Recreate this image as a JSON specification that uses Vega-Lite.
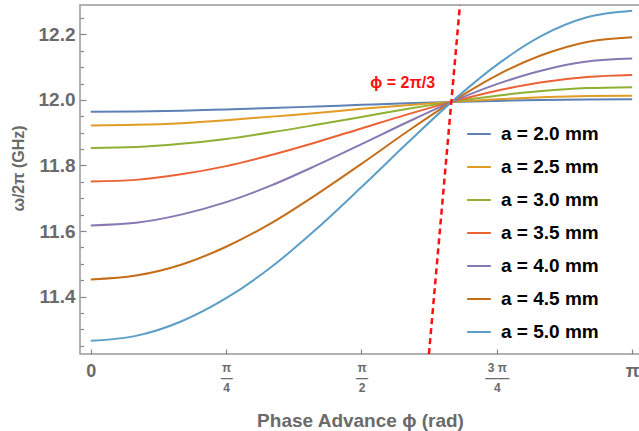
{
  "$schema": "https://vega.github.io/schema/vega-lite/v6.json",
  "autosize": "none",
  "width": 563,
  "height": 349,
  "padding": {"left": 80, "top": 5, "right": 0, "bottom": 77},
  "background": "white",
  "config": {
    "view": {"stroke": "#999999", "strokeWidth": 1.5},
    "font": "Liberation Sans"
  },
  "datasets": {
    "curves": [
      {"a": "a = 2.0 mm", "phi": 0, "f": 11.964},
      {"a": "a = 2.0 mm", "phi": 0.2618, "f": 11.965},
      {"a": "a = 2.0 mm", "phi": 0.5236, "f": 11.967},
      {"a": "a = 2.0 mm", "phi": 0.7854, "f": 11.971},
      {"a": "a = 2.0 mm", "phi": 1.0472, "f": 11.975},
      {"a": "a = 2.0 mm", "phi": 1.309, "f": 11.98},
      {"a": "a = 2.0 mm", "phi": 1.5708, "f": 11.985},
      {"a": "a = 2.0 mm", "phi": 1.8326, "f": 11.99},
      {"a": "a = 2.0 mm", "phi": 2.0944, "f": 11.994},
      {"a": "a = 2.0 mm", "phi": 2.3562, "f": 11.997},
      {"a": "a = 2.0 mm", "phi": 2.618, "f": 12.0},
      {"a": "a = 2.0 mm", "phi": 2.8798, "f": 12.001},
      {"a": "a = 2.0 mm", "phi": 3.1416, "f": 12.002},
      {"a": "a = 2.5 mm", "phi": 0, "f": 11.922},
      {"a": "a = 2.5 mm", "phi": 0.2618, "f": 11.924},
      {"a": "a = 2.5 mm", "phi": 0.5236, "f": 11.929},
      {"a": "a = 2.5 mm", "phi": 0.7854, "f": 11.938},
      {"a": "a = 2.5 mm", "phi": 1.0472, "f": 11.949},
      {"a": "a = 2.5 mm", "phi": 1.309, "f": 11.96},
      {"a": "a = 2.5 mm", "phi": 1.5708, "f": 11.973},
      {"a": "a = 2.5 mm", "phi": 1.8326, "f": 11.984},
      {"a": "a = 2.5 mm", "phi": 2.0944, "f": 11.994},
      {"a": "a = 2.5 mm", "phi": 2.3562, "f": 12.002},
      {"a": "a = 2.5 mm", "phi": 2.618, "f": 12.008},
      {"a": "a = 2.5 mm", "phi": 2.8798, "f": 12.012},
      {"a": "a = 2.5 mm", "phi": 3.1416, "f": 12.013},
      {"a": "a = 3.0 mm", "phi": 0, "f": 11.853},
      {"a": "a = 3.0 mm", "phi": 0.2618, "f": 11.856},
      {"a": "a = 3.0 mm", "phi": 0.5236, "f": 11.866},
      {"a": "a = 3.0 mm", "phi": 0.7854, "f": 11.881},
      {"a": "a = 3.0 mm", "phi": 1.0472, "f": 11.901},
      {"a": "a = 3.0 mm", "phi": 1.309, "f": 11.924},
      {"a": "a = 3.0 mm", "phi": 1.5708, "f": 11.948},
      {"a": "a = 3.0 mm", "phi": 1.8326, "f": 11.972},
      {"a": "a = 3.0 mm", "phi": 2.0944, "f": 11.994},
      {"a": "a = 3.0 mm", "phi": 2.3562, "f": 12.013},
      {"a": "a = 3.0 mm", "phi": 2.618, "f": 12.027},
      {"a": "a = 3.0 mm", "phi": 2.8798, "f": 12.036},
      {"a": "a = 3.0 mm", "phi": 3.1416, "f": 12.039},
      {"a": "a = 3.5 mm", "phi": 0, "f": 11.751},
      {"a": "a = 3.5 mm", "phi": 0.2618, "f": 11.756},
      {"a": "a = 3.5 mm", "phi": 0.5236, "f": 11.773},
      {"a": "a = 3.5 mm", "phi": 0.7854, "f": 11.798},
      {"a": "a = 3.5 mm", "phi": 1.0472, "f": 11.832},
      {"a": "a = 3.5 mm", "phi": 1.309, "f": 11.871},
      {"a": "a = 3.5 mm", "phi": 1.5708, "f": 11.913},
      {"a": "a = 3.5 mm", "phi": 1.8326, "f": 11.955},
      {"a": "a = 3.5 mm", "phi": 2.0944, "f": 11.994},
      {"a": "a = 3.5 mm", "phi": 2.3562, "f": 12.028},
      {"a": "a = 3.5 mm", "phi": 2.618, "f": 12.054},
      {"a": "a = 3.5 mm", "phi": 2.8798, "f": 12.07},
      {"a": "a = 3.5 mm", "phi": 3.1416, "f": 12.076},
      {"a": "a = 4.0 mm", "phi": 0, "f": 11.617},
      {"a": "a = 4.0 mm", "phi": 0.2618, "f": 11.625},
      {"a": "a = 4.0 mm", "phi": 0.5236, "f": 11.65},
      {"a": "a = 4.0 mm", "phi": 0.7854, "f": 11.688},
      {"a": "a = 4.0 mm", "phi": 1.0472, "f": 11.739},
      {"a": "a = 4.0 mm", "phi": 1.309, "f": 11.8},
      {"a": "a = 4.0 mm", "phi": 1.5708, "f": 11.865},
      {"a": "a = 4.0 mm", "phi": 1.8326, "f": 11.931},
      {"a": "a = 4.0 mm", "phi": 2.0944, "f": 11.994},
      {"a": "a = 4.0 mm", "phi": 2.3562, "f": 12.048},
      {"a": "a = 4.0 mm", "phi": 2.618, "f": 12.09},
      {"a": "a = 4.0 mm", "phi": 2.8798, "f": 12.117},
      {"a": "a = 4.0 mm", "phi": 3.1416, "f": 12.126},
      {"a": "a = 4.5 mm", "phi": 0, "f": 11.452},
      {"a": "a = 4.5 mm", "phi": 0.2618, "f": 11.464},
      {"a": "a = 4.5 mm", "phi": 0.5236, "f": 11.497},
      {"a": "a = 4.5 mm", "phi": 0.7854, "f": 11.552},
      {"a": "a = 4.5 mm", "phi": 1.0472, "f": 11.624},
      {"a": "a = 4.5 mm", "phi": 1.309, "f": 11.711},
      {"a": "a = 4.5 mm", "phi": 1.5708, "f": 11.805},
      {"a": "a = 4.5 mm", "phi": 1.8326, "f": 11.902},
      {"a": "a = 4.5 mm", "phi": 2.0944, "f": 11.994},
      {"a": "a = 4.5 mm", "phi": 2.3562, "f": 12.075},
      {"a": "a = 4.5 mm", "phi": 2.618, "f": 12.137},
      {"a": "a = 4.5 mm", "phi": 2.8798, "f": 12.177},
      {"a": "a = 4.5 mm", "phi": 3.1416, "f": 12.191},
      {"a": "a = 5.0 mm", "phi": 0, "f": 11.265},
      {"a": "a = 5.0 mm", "phi": 0.2618, "f": 11.28},
      {"a": "a = 5.0 mm", "phi": 0.5236, "f": 11.324},
      {"a": "a = 5.0 mm", "phi": 0.7854, "f": 11.395},
      {"a": "a = 5.0 mm", "phi": 1.0472, "f": 11.49},
      {"a": "a = 5.0 mm", "phi": 1.309, "f": 11.606},
      {"a": "a = 5.0 mm", "phi": 1.5708, "f": 11.734},
      {"a": "a = 5.0 mm", "phi": 1.8326, "f": 11.866},
      {"a": "a = 5.0 mm", "phi": 2.0944, "f": 11.994},
      {"a": "a = 5.0 mm", "phi": 2.3562, "f": 12.107},
      {"a": "a = 5.0 mm", "phi": 2.618, "f": 12.196},
      {"a": "a = 5.0 mm", "phi": 2.8798, "f": 12.252},
      {"a": "a = 5.0 mm", "phi": 3.1416, "f": 12.272}
    ],
    "lightline": [
      {"phi": 1.962, "f": 11.2247},
      {"phi": 2.142, "f": 12.2896}
    ],
    "note": [
      {"label": "ϕ = 2π/3", "phi": 1.81, "f": 12.052}
    ]
  },
  "layer": [
    {
      "data": {"name": "curves"},
      "mark": {"type": "line", "strokeWidth": 2, "interpolate": "monotone", "clip": true},
      "encoding": {
        "x": {
          "field": "phi", "type": "quantitative",
          "scale": {"domain": [-0.0628, 3.2044], "nice": false, "zero": false},
          "axis": {
            "title": "Phase Advance ϕ (rad)",
            "titleFont": "Liberation Sans", "titleFontSize": 19, "titleFontWeight": "bold", "titleColor": "#6a6a6a",
            "titleBaseline": "middle", "titleY": 66, "titleX": 280,
            "values": [0, 0.7853981634, 1.5707963268, 2.3561944902, 3.1415926536],
            "domain": false, "grid": false,
            "tickSize": -5, "tickColor": "#888", "tickWidth": 1.2,
            "labelPadding": 13,
            "labelColor": "#6a6a6a",
            "labelFont": "Liberation Sans",
            "labelFontWeight": "bold",
            "labelFontSize": {"condition": {"test": "datum.value < 0.1 || datum.value > 3", "value": 18}, "value": 12},
            "labelLineHeight": 10,
            "labelBaseline": "top",
            "labelExpr": "datum.value < 0.1 ? '0' : datum.value > 3 ? 'π' : datum.value < 1 ? ['π','—','4'] : datum.value < 2 ? ['π','—','2'] : ['3 π','——','4']"
          }
        },
        "y": {
          "field": "f", "type": "quantitative",
          "scale": {"domain": [11.2247, 12.2896], "nice": false, "zero": false},
          "axis": {
            "orient": "left",
            "title": "ω/2π (GHz)",
            "titleFont": "Liberation Sans", "titleFontSize": 16, "titleFontWeight": "bold", "titleColor": "#6a6a6a",
            "titleAngle": 270, "titleBaseline": "middle", "titleAlign": "center", "titleX": -62, "titleY": 163,
            "values": [11.4, 11.6, 11.8, 12.0, 12.2],
            "format": ".1f",
            "domain": false, "grid": false,
            "tickSize": -6, "tickColor": "#888", "tickWidth": 1.2,
            "labelPadding": 11,
            "labelColor": "#6a6a6a",
            "labelFont": "Liberation Sans",
            "labelFontSize": 19,
            "labelFontWeight": "bold"
          }
        },
        "color": {
          "field": "a", "type": "nominal",
          "scale": {
            "domain": ["a = 2.0 mm", "a = 2.5 mm", "a = 3.0 mm", "a = 3.5 mm", "a = 4.0 mm", "a = 4.5 mm", "a = 5.0 mm"],
            "range": ["#5E81B5", "#E19C24", "#8FB032", "#EB6235", "#8778B3", "#C56E1A", "#5D9EC7"]
          },
          "legend": {
            "title": null,
            "orient": "none",
            "legendX": 386,
            "legendY": 116,
            "padding": 0,
            "symbolType": "stroke",
            "symbolSize": 560,
            "symbolStrokeWidth": 2,
            "labelFont": "Liberation Sans",
            "labelFontSize": 19,
            "labelFontWeight": "bold",
            "labelColor": "#000",
            "labelOffset": 9,
            "rowPadding": 10
          }
        }
      }
    },
    {
      "data": {"name": "lightline"},
      "mark": {"type": "line", "color": "#FF1010", "strokeWidth": 2.5, "strokeDash": [6, 4], "clip": true},
      "encoding": {
        "x": {"field": "phi", "type": "quantitative", "axis": {"title": "Phase Advance ϕ (rad)"}},
        "y": {
          "field": "f", "type": "quantitative",
          "axis": {
            "orient": "left",
            "title": null,
            "values": [11.25, 11.3, 11.35, 11.45, 11.5, 11.55, 11.65, 11.7, 11.75, 11.85, 11.9, 11.95, 12.05, 12.1, 12.15, 12.25],
            "labels": false, "domain": false, "grid": false,
            "tickSize": -3.5, "tickColor": "#888", "tickWidth": 1.2
          }
        }
      }
    },
    {
      "data": {"name": "note"},
      "mark": {"type": "text", "color": "#FF1010", "font": "Liberation Sans", "fontSize": 16, "fontWeight": "bold", "align": "center", "baseline": "middle"},
      "encoding": {
        "text": {"field": "label"},
        "x": {"field": "phi", "type": "quantitative", "axis": {"title": "Phase Advance ϕ (rad)"}},
        "y": {"field": "f", "type": "quantitative", "axis": null}
      }
    }
  ],
  "resolve": {"axis": {"y": "independent"}}
}
